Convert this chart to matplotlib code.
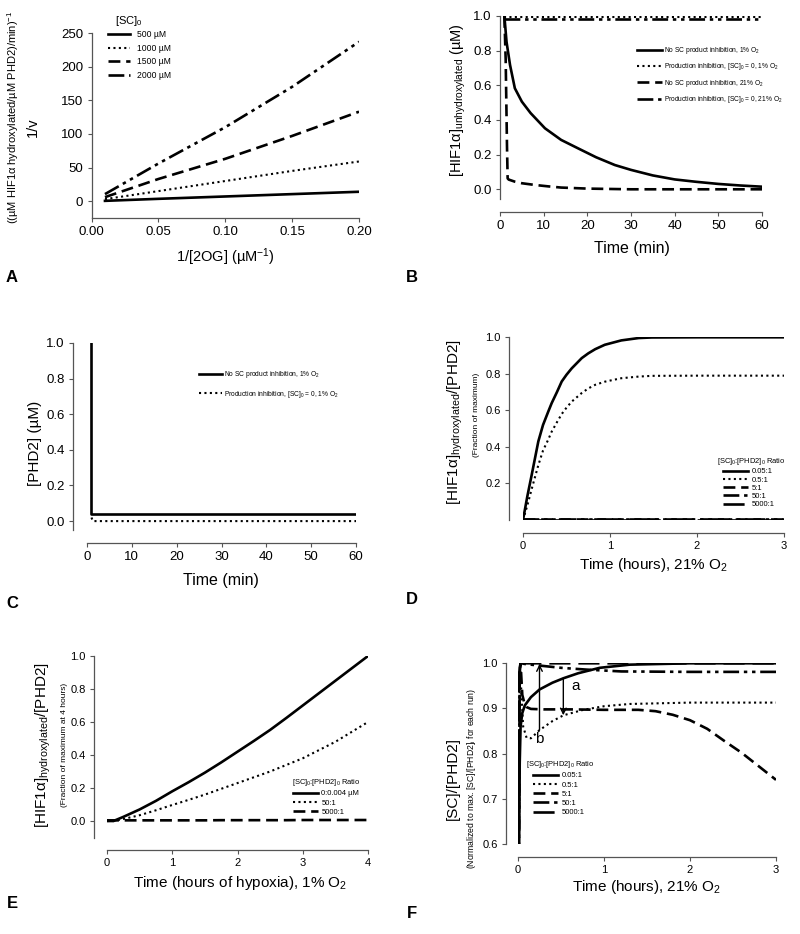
import numpy as np
import matplotlib
matplotlib.use('Agg')
from matplotlib import pyplot as plt

plt.rcParams['font.family'] = ['Liberation Sans', 'DejaVu Sans']
plt.rcParams['mathtext.fontset'] = 'custom'
plt.rcParams['mathtext.rm'] = 'Liberation Sans'
plt.rcParams['mathtext.it'] = 'Liberation Sans'

# ---- panel A : Lineweaver-Burk ----
a_x = [0.01, 0.05, 0.10, 0.15, 0.20]
a_500 = [0.5, 3.5, 7.0, 10.5, 14.0]
a_1000 = [3.0, 15.0, 30.0, 45.0, 59.0]
a_1500 = [6.0, 33.0, 63.0, 97.0, 133.0]
a_2000 = [10.5, 56.0, 110.0, 170.0, 237.0]
a_labels = ['500 µM', '1000 µM', '1500 µM', '2000 µM']

# ---- panel B : HIF1a unhydroxylated ----
b_t_solid = [1, 1.5, 2.3, 3.4, 5.0, 7.0, 10.3, 14, 17.9, 22, 26.3, 30, 35, 40, 45, 50, 55, 60]
b_solid = [1.0, 0.85, 0.717, 0.583, 0.506, 0.44, 0.352, 0.285, 0.236, 0.185, 0.14, 0.112, 0.08, 0.057, 0.043, 0.031, 0.022, 0.015]
b_t_dash = [1, 1.3, 1.6, 1.75, 2.0, 3.4, 5, 8, 11, 14, 20, 30, 60]
b_dash = [1.0, 0.75, 0.25, 0.063, 0.056, 0.044, 0.035, 0.025, 0.017, 0.01, 0.004, 0.0, 0.0]
b_t_flat = [1, 60]
b_dot = [0.995, 0.995]
b_dashdot = [0.983, 0.983]
b_labels = ['No SC product inhibition, 1% O$_2$',
            'Production inhibition, [SC]$_0$ = 0, 1% O$_2$',
            'No SC product inhibition, 21% O$_2$',
            'Production inhibition, [SC]$_0$ = 0, 21% O$_2$']

# ---- panel C : PHD2 ----
c_t_solid = [1, 1, 60]
c_solid = [1.0, 0.04, 0.04]
c_t_dot = [1, 1.3, 60]
c_dot = [0.02, 0.0, 0.0]
c_labels = ['No SC product inhibition, 1% O$_2$',
            'Production inhibition, [SC]$_0$ = 0, 1% O$_2$']

# ---- panel D : hydroxylated fraction, 21% O2 ----
d_t = [0, 0.05, 0.1, 0.176, 0.23, 0.29, 0.33, 0.39, 0.445, 0.5, 0.56, 0.675, 0.75, 0.83, 0.94, 1.13, 1.33, 1.48, 2.0, 2.5, 3.0]
d_005 = [0, 0.13, 0.247, 0.43, 0.52, 0.593, 0.64, 0.70, 0.758, 0.795, 0.83, 0.886, 0.912, 0.935, 0.959, 0.983, 0.996, 0.999, 1.0, 1.0, 1.0]
d_05 = [0, 0.08, 0.17, 0.30, 0.38, 0.44, 0.484, 0.535, 0.58, 0.615, 0.648, 0.695, 0.72, 0.74, 0.757, 0.776, 0.785, 0.789, 0.79, 0.79, 0.79]
d_t_flat = [0, 3]
d_5 = [0.004, 0.004]
d_50 = [0.003, 0.003]
d_5000 = [0.002, 0.002]
d_labels = ['0.05:1', '0.5:1', '5:1', '50:1', '5000:1']

# ---- panel E : hydroxylated fraction, 1% O2 ----
e_t = [0, 0.1, 0.25, 0.5, 0.75, 1.0, 1.25, 1.5, 1.75, 2.0, 2.25, 2.5, 2.75, 3.0, 3.25, 3.5, 3.75, 4.0]
e_solid = [0, 0.0, 0.025, 0.07, 0.122, 0.18, 0.235, 0.293, 0.355, 0.42, 0.485, 0.552, 0.625, 0.70, 0.775, 0.85, 0.925, 1.0]
e_dot = [0, 0.0, 0.012, 0.035, 0.065, 0.097, 0.128, 0.16, 0.195, 0.23, 0.265, 0.30, 0.34, 0.38, 0.43, 0.48, 0.54, 0.60]
e_dash = [0.004, 0.004, 0.004, 0.004, 0.004, 0.004, 0.004, 0.004, 0.005, 0.005, 0.005, 0.005, 0.005, 0.006, 0.006, 0.006, 0.006, 0.006]
e_labels = ['0:0.004 µM', '50:1', '5000:1']

# ---- panel F : SC/PHD2 ----
f_t_solid = [0.01, 0.012, 0.02, 0.03, 0.05, 0.08, 0.15, 0.25, 0.4, 0.53, 0.7, 0.95, 1.3, 2.0, 3.0]
f_solid = [0.55, 0.62, 0.78, 0.86, 0.89, 0.907, 0.925, 0.942, 0.957, 0.967, 0.978, 0.99, 0.997, 1.0, 1.0]
f_t_dot = [0.01, 0.02, 0.025, 0.04, 0.06, 0.1, 0.15, 0.25, 0.4, 0.53, 0.76, 1.0, 1.3, 2.0, 3.0]
f_dot = [0.55, 0.98, 1.0, 0.93, 0.86, 0.835, 0.834, 0.852, 0.872, 0.885, 0.897, 0.905, 0.91, 0.913, 0.913]
f_t_dash = [0.01, 0.02, 0.03, 0.05, 0.07, 0.1, 0.15, 0.3, 0.6, 1.0, 1.4, 1.6, 1.8, 2.0, 2.2, 2.4, 2.6, 2.8, 3.0]
f_dash = [0.55, 0.99, 1.0, 0.93, 0.915, 0.903, 0.899, 0.898, 0.898, 0.897, 0.897, 0.894, 0.886, 0.874, 0.855, 0.828, 0.802, 0.772, 0.742]
f_t_dd = [0.01, 0.02, 0.03, 0.1, 0.3, 0.5, 0.8, 1.2, 2.0, 3.0]
f_dd = [0.55, 0.98, 1.0, 0.998, 0.994, 0.99, 0.986, 0.982, 0.981, 0.981]
f_t_long = [0.01, 0.015, 0.03, 3.0]
f_long = [0.55, 0.99, 1.0, 1.0]
f_labels = ['0.05:1', '0.5:1', '5:1', '50:1', '5000:1']

W, H = 800, 934
fig = plt.figure(figsize=(W / 100, H / 100), dpi=100)

SOLID = dict(ls='-', lw=1.9, c='k')
DOT = dict(ls=(0, (1, 1.6)), lw=1.5, c='k')
DASH = dict(ls=(0, (4.5, 2.2)), lw=1.9, c='k')
DDOT = dict(ls=(0, (6, 1.8, 1.3, 1.8, 1.3, 1.8)), lw=1.9, c='k')
LONG = dict(ls=(0, (8, 3)), lw=1.9, c='k')


def add_ax(left, right, top, bottom, yout=0, xout=13, tsize=9.5):
    ax = fig.add_axes([left / W, 1 - bottom / H, (right - left) / W, (bottom - top) / H])
    ax.spines['top'].set_visible(False)
    ax.spines['right'].set_visible(False)
    for s in ('left', 'bottom'):
        ax.spines[s].set_color('#555555')
        ax.spines[s].set_linewidth(0.9)
    ax.spines['left'].set_position(('outward', yout * 0.72))
    ax.spines['bottom'].set_position(('outward', xout * 0.72))
    ax.tick_params(direction='out', length=3, width=0.8, color='#555555', labelsize=tsize, pad=3)
    return ax


def leg(ax, labels, anchor, fs=6.2, hl=3.0, spacing=0.25, pad=0.5):
    l = ax.legend(labels, loc='upper left', bbox_to_anchor=anchor, bbox_transform=fig.transFigure,
                  frameon=False, fontsize=fs, handlelength=hl, labelspacing=spacing,
                  handletextpad=pad, borderpad=0, borderaxespad=0)
    return l


# ---------------- A ----------------
ax = add_ax(91.6, 359, 33, 218, yout=0, xout=0)
ax.plot(a_x, a_500, **SOLID)
ax.plot(a_x, a_1000, **DOT)
ax.plot(a_x, a_1500, **DASH)
ax.plot(a_x, a_2000, **DDOT)
ax.set_xlim(0, 0.20)
ax.set_ylim(-25, 250)
ax.set_xticks(np.arange(0, 0.21, 0.05))
ax.set_xticklabels(['0.00', '0.05', '0.10', '0.15', '0.20'])
ax.set_yticks(np.arange(0, 251, 50))
leg(ax, a_labels, (108 / W, 1 - 30 / H), fs=6.2, spacing=0.55, hl=2.6, pad=0.8)
fig.text(129 / W, 1 - 21 / H, '[SC]$_0$', fontsize=8, ha='center', va='center')
fig.text(33 / W, 1 - 127 / H, '1/v', fontsize=10.5, rotation=90, ha='center', va='center')
fig.text(13 / W, 1 - 117 / H, '((µM HIF1α hydroxylated/µM PHD2)/min)$^{-1}$', fontsize=8,
         rotation=90, ha='center', va='center')
fig.text(225 / W, 1 - 257 / H, '1/[2OG] (µM$^{-1}$)', fontsize=10.5, ha='center', va='center')

# ---------------- B ----------------
ax = add_ax(500, 762, 16, 199, yout=0, xout=13)
ax.plot(b_t_solid, b_solid, **SOLID)
ax.plot(b_t_flat, b_dot, **DOT)
ax.plot(b_t_dash, b_dash, **DASH)
ax.plot(b_t_flat, b_dashdot, **DDOT)
ax.set_xlim(0, 60)
ax.set_ylim(-0.056, 1.0)
ax.set_xticks(np.arange(0, 61, 10))
ax.set_yticks(np.arange(0, 1.01, 0.2))
ax.set_yticklabels(['0.0', '0.2', '0.4', '0.6', '0.8', '1.0'])
leg(ax, b_labels, (637 / W, 1 - 45 / H), fs=4.8, spacing=0.8, hl=3.8, pad=0.3)
fig.text(458 / W, 1 - 100 / H, '[HIF1α]$_{\\mathrm{unhydroxylated}}$ (µM)', fontsize=10.5,
         rotation=90, ha='center', va='center')
fig.text(632 / W, 1 - 248 / H, 'Time (min)', fontsize=11.5, ha='center', va='center')

# ---------------- C ----------------
ax = add_ax(87, 356, 343, 530, yout=14, xout=13)
ax.plot(c_t_solid, c_solid, **SOLID)
ax.plot(c_t_dot, c_dot, **DOT)
ax.set_xlim(0, 60)
ax.set_ylim(-0.05, 1.0)
ax.set_xticks(np.arange(0, 61, 10))
ax.set_yticks(np.arange(0, 1.01, 0.2))
ax.set_yticklabels(['0.0', '0.2', '0.4', '0.6', '0.8', '1.0'])
leg(ax, c_labels, (199 / W, 1 - 369 / H), fs=4.8, spacing=1.3, hl=3.5, pad=0.3)
fig.text(35 / W, 1 - 443 / H, '[PHD2] (µM)', fontsize=11, rotation=90, ha='center', va='center')
fig.text(221 / W, 1 - 580 / H, 'Time (min)', fontsize=11.5, ha='center', va='center')

# ---------------- D ----------------
ax = add_ax(523, 784, 337.3, 520, yout=14, xout=13, tsize=8)
ax.plot(d_t, d_005, **SOLID)
ax.plot(d_t, d_05, **DOT)
ax.plot(d_t_flat, d_5, **DASH)
ax.plot(d_t_flat, d_50, **DDOT)
ax.plot(d_t_flat, d_5000, **LONG)
ax.set_xlim(0, 3)
ax.set_ylim(0, 1.0)
ax.set_xticks([0, 1, 2, 3])
ax.set_yticks([0.2, 0.4, 0.6, 0.8, 1.0])
leg(ax, d_labels, (723 / W, 1 - 468 / H), fs=5.5, spacing=0.12, hl=3.3, pad=0.4)
fig.text(751 / W, 1 - 462 / H, '[SC]$_0$:[PHD2]$_0$ Ratio', fontsize=5.4, ha='center', va='center')
fig.text(455 / W, 1 - 422 / H, '[HIF1α]$_{\\mathrm{hydroxylated}}$/[PHD2]', fontsize=11,
         rotation=90, ha='center', va='center')
fig.text(476 / W, 1 - 415 / H, '(Fraction of maximum)', fontsize=6, rotation=90,
         ha='center', va='center')
fig.text(654 / W, 1 - 565 / H, 'Time (hours), 21% O$_2$', fontsize=11, ha='center', va='center')

# ---------------- E ----------------
ax = add_ax(107, 368, 656, 838, yout=13, xout=12, tsize=8)
ax.plot(e_t, e_solid, **SOLID)
ax.plot(e_t, e_dot, **DOT)
ax.plot(e_t, e_dash, **DASH)
ax.set_xlim(0, 4)
ax.set_ylim(-0.103, 1.0)
ax.set_xticks([0, 1, 2, 3, 4])
ax.set_yticks(np.arange(0, 1.01, 0.2))
ax.set_yticklabels(['0.0', '0.2', '0.4', '0.6', '0.8', '1.0'])
leg(ax, e_labels, (293 / W, 1 - 790 / H), fs=5.5, spacing=0.25, hl=3.3, pad=0.4)
fig.text(326 / W, 1 - 783 / H, '[SC]$_0$:[PHD2]$_0$ Ratio', fontsize=5.4, ha='center', va='center')
fig.text(43 / W, 1 - 745 / H, '[HIF1α]$_{\\mathrm{hydroxylated}}$/[PHD2]', fontsize=11,
         rotation=90, ha='center', va='center')
fig.text(64 / W, 1 - 745 / H, '(Fraction of maximum at 4 hours)', fontsize=6, rotation=90,
         ha='center', va='center')
fig.text(240 / W, 1 - 883 / H, 'Time (hours of hypoxia), 1% O$_2$', fontsize=11,
         ha='center', va='center')

# ---------------- F ----------------
ax = add_ax(518, 776, 663.3, 844, yout=12, xout=13, tsize=8)
ax.plot(f_t_solid, f_solid, **SOLID)
ax.plot(f_t_dot, f_dot, **DOT)
ax.plot(f_t_dash, f_dash, **DASH)
ax.plot(f_t_dd, f_dd, **DDOT)
ax.plot(f_t_long, f_long, **LONG)
ax.set_xlim(0, 3)
ax.set_ylim(0.6, 1.0)
ax.set_xticks([0, 1, 2, 3])
ax.set_yticks([0.6, 0.7, 0.8, 0.9, 1.0])
ax.annotate('', xy=(0.25, 0.998), xytext=(0.25, 0.852),
            arrowprops=dict(arrowstyle='->', lw=1, color='k', shrinkA=0, shrinkB=0))
ax.annotate('', xy=(0.527, 0.885), xytext=(0.527, 0.967),
            arrowprops=dict(arrowstyle='->', lw=1, color='k', shrinkA=0, shrinkB=0))
ax.text(0.67, 0.95, 'a', fontsize=11, ha='center', va='center')
ax.text(0.25, 0.832, 'b', fontsize=11, ha='center', va='center')
leg(ax, f_labels, (533 / W, 1 - 772 / H), fs=5.5, spacing=0.25, hl=3.3, pad=0.4)
fig.text(560 / W, 1 - 765 / H, '[SC]$_0$:[PHD2]$_0$ Ratio', fontsize=5.4, ha='center', va='center')
fig.text(453 / W, 1 - 778 / H, '[SC]/[PHD2]', fontsize=11, rotation=90, ha='center', va='center')
fig.text(472 / W, 1 - 778 / H, '(Normalized to max. [SC]/[PHD2]$_i$ for each run)', fontsize=6.2,
         rotation=90, ha='center', va='center')
fig.text(647 / W, 1 - 887 / H, 'Time (hours), 21% O$_2$', fontsize=11, ha='center', va='center')

# panel letters
for lab, x, y in [('A', 12, 277), ('B', 412, 277), ('C', 12, 603),
                  ('D', 412, 600), ('E', 12, 903), ('F', 412, 913)]:
    fig.text(x / W, 1 - y / H, lab, fontsize=12, fontweight='bold', ha='center', va='center')

fig.savefig('out.png', dpi=100)
